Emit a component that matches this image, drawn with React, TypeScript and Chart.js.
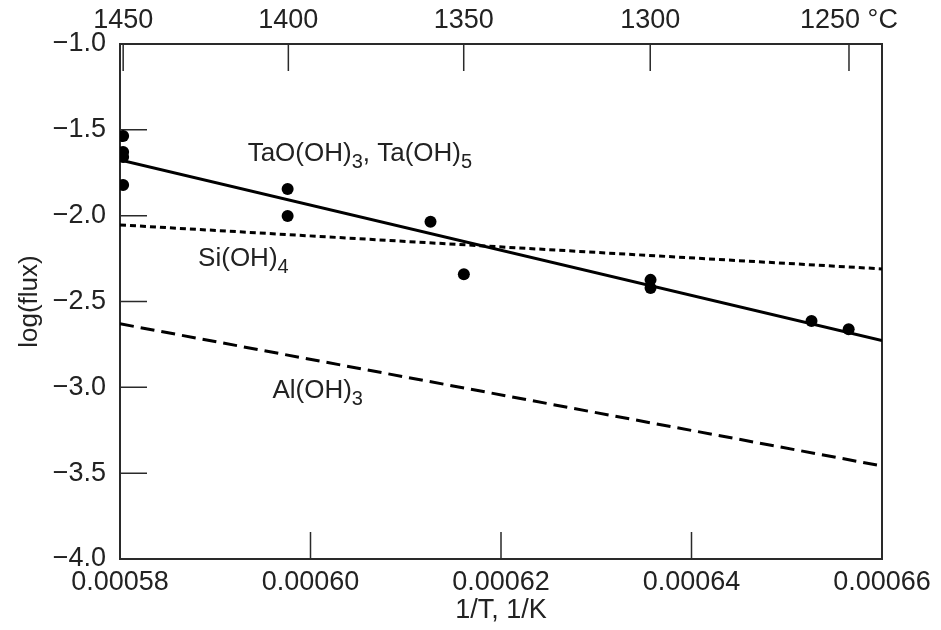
import { useEffect, useRef } from "react";
import { Chart, registerables } from "chart.js";

Chart.register(...registerables);

// ---- data ----
const xTickValues = [0.00058, 0.0006, 0.00062, 0.00064, 0.00066];
const yTickValues = [-1.0, -1.5, -2.0, -2.5, -3.0, -3.5, -4.0];
const celsiusTicks = [1450, 1400, 1350, 1300, 1250];
const celsiusLabels = ["1450", "1400", "1350", "1300", "1250 °C"];

const pointX = [
  0.00058033, 0.00058033, 0.00058033, 0.00058033, 0.0005976, 0.0005976,
  0.0006126, 0.0006161, 0.0006357, 0.0006357, 0.0006526, 0.0006565,
];
const pointY = [
  -1.536, -1.629, -1.658, -1.821, -1.845, -2.002, -2.035, -2.341, -2.374,
  -2.421, -2.613, -2.662,
];

const lineX = [0.00058, 0.00066];
const taLineY = [-1.676, -2.728];
const siLineY = [-2.054, -2.31];
const alLineY = [-2.63, -3.458];

const labelTa = { x: 0.0005934, y: -1.681, parts: [["TaO(OH)", false], ["3", true], [", Ta(OH)", false], ["5", true]] as [string, boolean][] };
const labelSi = { x: 0.0005882, y: -2.293, parts: [["Si(OH)", false], ["4", true]] as [string, boolean][] };
const labelAl = { x: 0.000596, y: -3.063, parts: [["Al(OH)", false], ["3", true]] as [string, boolean][] };

const FAMILY = "'Liberation Sans', Arial, Helvetica, sans-serif";
const TEXT = "#222222";
const AXIS = "#2a2a2a";

const toC = (c: number) => 1 / (c + 273.15);
const fmtY = (v: number) => (v < 0 ? "\u2212" : "") + Math.abs(v).toFixed(1);

const overlay = {
  id: "overlay",
  beforeDatasetsDraw(chart: any) {
    const { ctx, chartArea: a, scales } = chart;
    ctx.save();
    ctx.strokeStyle = AXIS;
    ctx.lineWidth = 1.5;
    ctx.beginPath();
    for (const v of xTickValues) {
      const px = scales.x.getPixelForValue(v);
      if (px > a.left + 2 && px < a.right - 2) {
        ctx.moveTo(px, a.bottom);
        ctx.lineTo(px, a.bottom - 27);
      }
    }
    for (const c of celsiusTicks) {
      const px = scales.xTop.getPixelForValue(toC(c));
      ctx.moveTo(px, a.top);
      ctx.lineTo(px, a.top + 27);
    }
    for (const v of yTickValues) {
      const py = scales.y.getPixelForValue(v);
      if (py > a.top + 2 && py < a.bottom - 2) {
        ctx.moveTo(a.left, py);
        ctx.lineTo(a.left + 27, py);
      }
    }
    ctx.stroke();
    ctx.lineWidth = 2;
    ctx.strokeRect(a.left, a.top, a.right - a.left, a.bottom - a.top);
    ctx.restore();
  },
  afterDatasetsDraw(chart: any) {
    const { ctx, scales } = chart;
    ctx.save();
    ctx.fillStyle = TEXT;
    ctx.textBaseline = "alphabetic";
    ctx.textAlign = "left";
    for (const lab of [labelTa, labelSi, labelAl]) {
      let x = scales.x.getPixelForValue(lab.x);
      const y = scales.y.getPixelForValue(lab.y);
      for (const [t, sub] of lab.parts) {
        ctx.font = `${sub ? 20 : 26}px ${FAMILY}`;
        ctx.fillText(t, x, sub ? y + 7 : y);
        x += ctx.measureText(t).width;
      }
    }
    ctx.restore();
  },
};

export default function App() {
  const ref = useRef<HTMLCanvasElement | null>(null);
  useEffect(() => {
    if (!ref.current) return;
    const font = { family: FAMILY, size: 27 };
    const chart = new Chart(ref.current, {
      type: "scatter",
      data: {
        datasets: [
          {
            label: "points",
            data: pointX.map((x, i) => ({ x, y: pointY[i] })),
            backgroundColor: "#000",
            borderColor: "#000",
            pointRadius: 6,
            borderWidth: 0,
            showLine: false,
          },
          {
            label: "TaO(OH)3, Ta(OH)5",
            data: lineX.map((x, i) => ({ x, y: taLineY[i] })),
            borderColor: "#000",
            borderWidth: 3,
            pointRadius: 0,
            showLine: true,
          },
          {
            label: "Si(OH)4",
            data: lineX.map((x, i) => ({ x, y: siLineY[i] })),
            borderColor: "#000",
            borderWidth: 3,
            borderDash: [6, 4],
            pointRadius: 0,
            showLine: true,
          },
          {
            label: "Al(OH)3",
            data: lineX.map((x, i) => ({ x, y: alLineY[i] })),
            borderColor: "#000",
            borderWidth: 3,
            borderDash: [14, 7],
            pointRadius: 0,
            showLine: true,
          },
        ],
      },
      options: {
        animation: false,
        responsive: false,
        devicePixelRatio: 1,
        layout: { padding: { left: 0, right: 59, top: 0, bottom: 0 } },
        plugins: { legend: { display: false }, tooltip: { enabled: false } },
        scales: {
          x: {
            type: "linear",
            position: "bottom",
            min: 0.00058,
            max: 0.00066,
            afterBuildTicks: (s: any) => {
              s.ticks = xTickValues.map((v) => ({ value: v }));
            },
            afterFit: (s: any) => {
              s.height = 71;
            },
            ticks: {
              callback: (v: any) => Number(v).toFixed(5),
              font,
              color: TEXT,
              padding: 7,
              maxRotation: 0,
              autoSkip: false,
            },
            grid: { display: false, drawTicks: false },
            border: { display: false },
            title: {
              display: true,
              text: "1/T, 1/K",
              font,
              color: TEXT,
              padding: { top: 0, bottom: 3 },
            },
          },
          xTop: {
            type: "linear",
            position: "top",
            min: 0.00058,
            max: 0.00066,
            afterBuildTicks: (s: any) => {
              s.ticks = celsiusTicks.map((c) => ({ value: toC(c) }));
            },
            afterFit: (s: any) => {
              s.height = 44;
            },
            ticks: {
              callback: (_v: any, i: number) => celsiusLabels[i],
              font,
              color: TEXT,
              padding: 7,
              maxRotation: 0,
              autoSkip: false,
            },
            grid: { display: false, drawTicks: false },
            border: { display: false },
          },
          y: {
            type: "linear",
            position: "left",
            min: -4,
            max: -1,
            afterBuildTicks: (s: any) => {
              s.ticks = yTickValues.map((v) => ({ value: v }));
            },
            afterFit: (s: any) => {
              s.width = 120;
            },
            ticks: {
              callback: (v: any) => fmtY(Number(v)),
              font,
              color: TEXT,
              padding: 14,
              autoSkip: false,
            },
            grid: { display: false, drawTicks: false },
            border: { display: false },
            title: {
              display: true,
              text: "log(flux)",
              font: { family: FAMILY, size: 26 },
              color: TEXT,
              padding: { top: 14, bottom: 0 },
            },
          },
        },
      },
      plugins: [overlay],
    } as any);
    return () => chart.destroy();
  }, []);
  return (
    <div style={{ position: "absolute", left: 0, top: 0, width: 941, height: 630, background: "#fff" }}>
      <canvas ref={ref} width={941} height={630} />
    </div>
  );
}
